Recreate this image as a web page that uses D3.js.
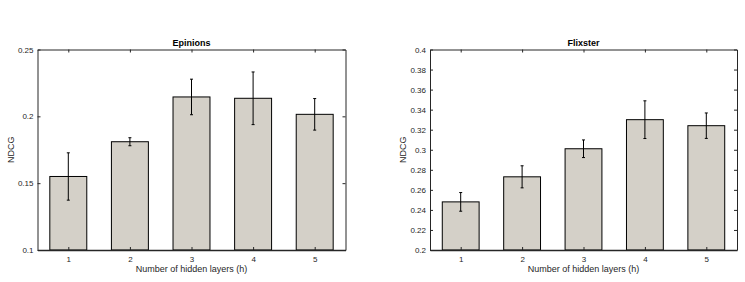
<!DOCTYPE html>
<html>
<head>
<style>
  body { margin: 0; background: #fff; }
  svg { font-family: Helvetica, Arial, "Liberation Sans", sans-serif; }
  .tick text { fill: #262626; font-size: 8px; }
  .axis path, .axis line { stroke: #262626; }
  .title { font-size: 9px; font-weight: bold; text-anchor: middle; fill: #000; }
  .label { font-size: 9px; fill: #262626; text-anchor: middle; }
  .bar { fill: #d4d0c8; stroke: #000; stroke-width: 1; }
  .err { stroke: #000; stroke-width: 1; }
</style>
</head>
<body>
<script src="https://d3js.org/d3.v7.min.js"></script>
<script>
const layers = [1, 2, 3, 4, 5];

const epinionsNdcg = [0.155, 0.181, 0.2145, 0.2135, 0.2015];
const epinionsErr = [0.0177, 0.003, 0.0133, 0.0197, 0.0118];
const epinionsTicks = [0.1, 0.15, 0.2, 0.25];

const flixsterNdcg = [0.248, 0.273, 0.301, 0.330, 0.324];
const flixsterErr = [0.0093, 0.011, 0.0088, 0.0188, 0.0127];
const flixsterTicks = [0.2, 0.22, 0.24, 0.26, 0.28, 0.3, 0.32, 0.34, 0.36, 0.38, 0.4];

const svg = d3.select('body').append('svg')
  .attr('width', 745)
  .attr('height', 282);

function drawPanel(opts) {
  const left = opts.left, right = opts.right, top = 49.5, bottom = 250;
  const g = svg.append('g');

  const x = d3.scaleLinear().domain([0.5, 5.5]).range([left, right]);
  const y = d3.scaleLinear().domain(opts.domain).range([bottom, top]);
  const barW = (x(1) - x(0)) * 0.6;

  const data = layers.map((l, i) => ({ l: l, v: opts.values[i], e: opts.errs[i] }));

  g.selectAll('rect.bar')
    .data(data)
    .join('rect')
    .attr('class', 'bar')
    .attr('x', d => x(d.l) - barW / 2)
    .attr('y', d => y(d.v))
    .attr('width', barW)
    .attr('height', d => y(opts.domain[0]) - y(d.v));

  // error bars
  const eg = g.append('g');
  eg.selectAll('line.v')
    .data(data)
    .join('line')
    .attr('class', 'err')
    .attr('x1', d => x(d.l)).attr('x2', d => x(d.l))
    .attr('y1', d => y(d.v + d.e)).attr('y2', d => y(d.v - d.e));
  eg.selectAll('line.t')
    .data(data)
    .join('line')
    .attr('class', 'err')
    .attr('x1', d => x(d.l) - 1.5).attr('x2', d => x(d.l) + 1.5)
    .attr('y1', d => y(d.v + d.e)).attr('y2', d => y(d.v + d.e));
  eg.selectAll('line.b')
    .data(data)
    .join('line')
    .attr('class', 'err')
    .attr('x1', d => x(d.l) - 1.5).attr('x2', d => x(d.l) + 1.5)
    .attr('y1', d => y(d.v - d.e)).attr('y2', d => y(d.v - d.e));

  // axes, ticks inward (matlab style)
  g.append('g').attr('class', 'axis')
    .attr('transform', 'translate(0,' + bottom + ')')
    .call(d3.axisBottom(x).tickValues(layers).tickSize(-3).tickPadding(6).tickSizeOuter(0)
      .tickFormat(d3.format('d')))
    .call(a => a.select('.domain').attr('stroke-width', 1.3));
  g.append('g').attr('class', 'axis')
    .attr('transform', 'translate(0,' + top + ')')
    .call(d3.axisTop(x).tickValues(layers).tickSize(-3).tickFormat('').tickSizeOuter(0));
  g.append('g').attr('class', 'axis')
    .attr('transform', 'translate(' + left + ',0)')
    .call(d3.axisLeft(y).tickValues(opts.ticks).tickSize(-3).tickPadding(4).tickSizeOuter(0)
      .tickFormat(d => String(+d.toFixed(2))));
  g.append('g').attr('class', 'axis')
    .attr('transform', 'translate(' + right + ',0)')
    .call(d3.axisRight(y).tickValues(opts.ticks).tickSize(-3).tickFormat('').tickSizeOuter(0));

  g.selectAll('.axis .tick line').attr('stroke', '#262626');
  g.selectAll('.axis text').attr('font-family', null).attr('font-size', null);

  g.append('text').attr('class', 'title')
    .attr('x', (left + right) / 2).attr('y', 46)
    .text(opts.title);
  g.append('text').attr('class', 'label')
    .attr('x', (left + right) / 2).attr('y', 272)
    .text('Number of hidden layers (h)');
  g.append('text').attr('class', 'label')
    .attr('transform', 'translate(' + opts.ylabX + ',' + (top + bottom) / 2 + ') rotate(-90)')
    .text('NDCG');
}

drawPanel({ left: 37.5, right: 345.5, domain: [0.1, 0.25], ticks: epinionsTicks,
  values: epinionsNdcg, errs: epinionsErr, title: 'Epinions', ylabX: 14 });
drawPanel({ left: 430, right: 737, domain: [0.2, 0.4], ticks: flixsterTicks,
  values: flixsterNdcg, errs: flixsterErr, title: 'Flixster', ylabX: 406 });
</script>
</body>
</html>
